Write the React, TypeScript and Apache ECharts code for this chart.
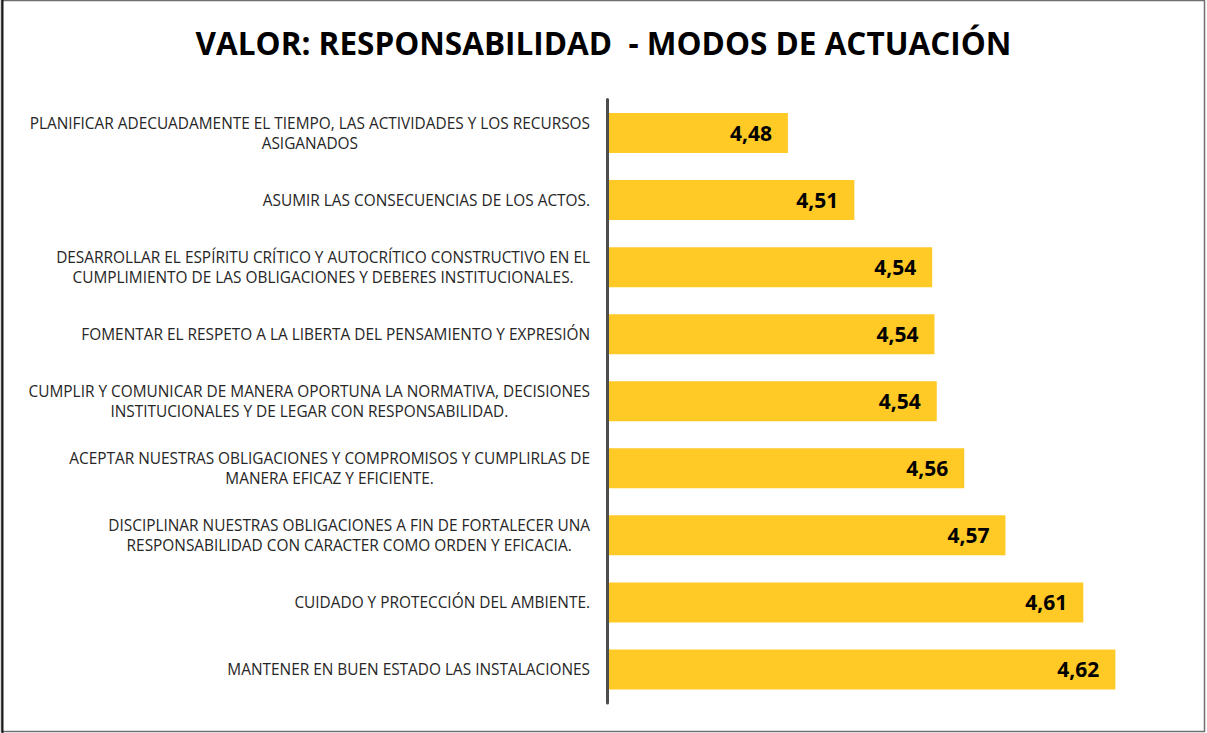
import React, { useEffect, useRef } from "react";
import * as echarts from "echarts";

const TITLE = "VALOR: RESPONSABILIDAD  - MODOS DE ACTUACIÓN";

const categories: string[] = [
  "PLANIFICAR ADECUADAMENTE EL TIEMPO, LAS ACTIVIDADES Y LOS RECURSOS\nASIGANADOS",
  "ASUMIR LAS CONSECUENCIAS DE LOS ACTOS.",
  "DESARROLLAR EL ESPÍRITU CRÍTICO Y AUTOCRÍTICO CONSTRUCTIVO EN EL\nCUMPLIMIENTO DE LAS OBLIGACIONES Y DEBERES INSTITUCIONALES.",
  "FOMENTAR EL RESPETO A LA LIBERTA DEL PENSAMIENTO Y EXPRESIÓN",
  "CUMPLIR Y COMUNICAR DE MANERA OPORTUNA LA NORMATIVA, DECISIONES\nINSTITUCIONALES Y DE LEGAR CON RESPONSABILIDAD.",
  "ACEPTAR NUESTRAS OBLIGACIONES Y COMPROMISOS Y CUMPLIRLAS DE\nMANERA EFICAZ Y EFICIENTE.",
  "DISCIPLINAR NUESTRAS OBLIGACIONES A FIN DE FORTALECER UNA\nRESPONSABILIDAD CON CARACTER COMO ORDEN Y EFICACIA.",
  "CUIDADO Y PROTECCIÓN DEL AMBIENTE.",
  "MANTENER EN BUEN ESTADO LAS INSTALACIONES",
];

const values: number[] = [4.479, 4.508, 4.542, 4.543, 4.544, 4.556, 4.574, 4.608, 4.622];

const AXIS_MIN = 4.4;
const AXIS_MAX = 4.65;

export default function App() {
  const ref = useRef<HTMLDivElement>(null);

  useEffect(() => {
    document.body.style.margin = "0";
    if (!ref.current) return;
    const chart = echarts.init(ref.current, undefined, { renderer: "svg" });
    const font = "'Open Sans', 'Noto Sans', sans-serif";
    chart.setOption({
      animation: false,
      backgroundColor: "#ffffff",
      title: {
        text: TITLE,
        left: "center",
        top: 21,
        textStyle: {
          fontFamily: font,
          fontSize: 31.5,
          fontWeight: "bold",
          color: "#000000",
        },
      },
      graphic: [
        {
          type: "rect",
          shape: { x: 1.5, y: 0.5, width: 1203, height: 731 },
          style: { fill: "none", stroke: "#6f6f6f", lineWidth: 1.5 },
          silent: true,
        },
        {
          type: "line",
          shape: { x1: 2.5, y1: 0, x2: 2.5, y2: 733 },
          style: { stroke: "#1a1a1a", lineWidth: 2 },
          silent: true,
        },
      ],
      grid: {
        left: 607,
        right: 27.5,
        top: 99.5,
        bottom: 30,
        containLabel: false,
      },
      xAxis: {
        type: "value",
        min: AXIS_MIN,
        max: AXIS_MAX,
        show: false,
        splitLine: { show: false },
      },
      yAxis: {
        type: "category",
        inverse: true,
        data: categories,
        z: 10,
        axisLine: { show: true, lineStyle: { color: "#4d4d4d", width: 3 } },
        axisTick: { show: false },
        axisLabel: {
          margin: 17,
          align: "right",
          fontFamily: font,
          fontSize: 15.4,
          color: "#262626",
          lineHeight: 20,
          formatter: (v: string) =>
            v
              .split("\n")
              .map((l) => "{c|" + l + "}")
              .join("\n"),
          rich: {
            c: {
              align: "center",
              fontFamily: font,
              fontSize: 15.4,
              color: "#262626",
              lineHeight: 20,
            },
          },
        },
      },
      series: [
        {
          type: "bar",
          data: values,
          barWidth: 40,
          itemStyle: { color: "#FFC926" },
          label: {
            show: true,
            position: "insideRight",
            distance: 16,
            fontFamily: font,
            fontSize: 21,
            fontWeight: "bold",
            color: "#000000",
            formatter: (p: any) => Number(p.value).toFixed(2).replace(".", ","),
          },
        },
      ],
    });
    return () => chart.dispose();
  }, []);

  return (
    <div
      ref={ref}
      style={{ position: "absolute", left: 0, top: 0, width: 1207, height: 733 }}
    />
  );
}
